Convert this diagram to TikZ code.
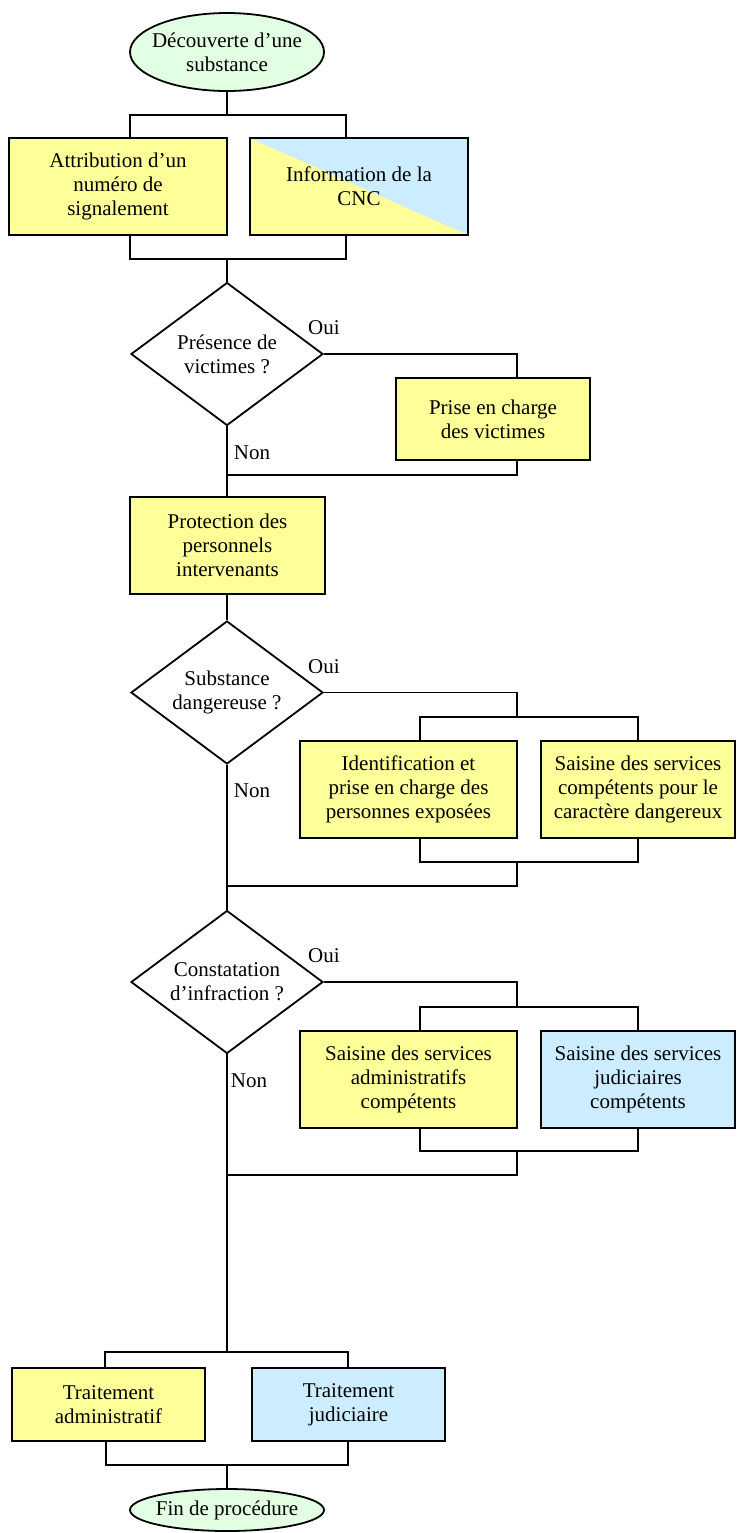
\documentclass[tikz,border=0pt]{standalone}
\usepackage{fontspec}
\setmainfont{Liberation Serif}
\usetikzlibrary{shapes.geometric,positioning}
\definecolor{jaune}{HTML}{FFFF99}
\definecolor{bleu}{HTML}{CCECFF}
\definecolor{vert}{HTML}{E3FFE3}

\begin{document}
\begin{tikzpicture}[x=0.5pt, y=-0.5pt, line width=0.9pt,
  font=\fontsize{10.5}{12}\selectfont,
  boite/.style={draw, rectangle, fill=jaune, align=center, inner sep=0pt},
  boitej/.style={boite, fill=bleu},
  question/.style={draw, diamond, aspect=1.34, inner sep=0pt, minimum width=96pt, minimum height=71.5pt, align=center},
  terminal/.style={draw, ellipse, fill=vert, align=center, inner xsep=-4pt, inner ysep=0pt, minimum width=97pt},
  etiq/.style={inner sep=0pt}]
\useasboundingbox (0,0) rectangle (747,1533);

% noeuds
\node[terminal, minimum height=39pt] (debut) at (227,52) {D\'ecouverte d'une\\substance};
\node[boite, minimum width=109pt, minimum height=48.5pt] (attrib) at (118,186.5) {Attribution d'un\\num\'ero de\\signalement};
\node[boite, fill=none, minimum width=109pt, minimum height=48.5pt,
  path picture={
    \fill[jaune] (path picture bounding box.north west) -- (path picture bounding box.south west) -- (path picture bounding box.south east) -- cycle;
    \fill[bleu] (path picture bounding box.north west) -- (path picture bounding box.north east) -- (path picture bounding box.south east) -- cycle;}]
  (info) at (359,186.5) {Information de la\\CNC};
\node[question] (victimes) at (227,354) {Pr\'esence de\\victimes ?};
\node[boite, minimum width=97pt, minimum height=41pt] (prise) at (493,419) {Prise en charge\\des victimes};
\node[boite, minimum width=97.5pt, minimum height=48.5pt] (protection) at (227.5,545.5) {Protection des\\personnels\\intervenants};
\node[question] (dangereuse) at (227,692.5) {Substance\\dangereuse ?};
\node[boite, minimum width=108.5pt, minimum height=48.5pt] (identif) at (408.5,789.5) {Identification et\\prise en charge des\\personnes expos\'ees};
\node[boite, minimum width=97pt, minimum height=48.5pt] (saisdang) at (638,789.5) {Saisine des services\\comp\'etents pour le\\caract\`ere dangereux};
\node[question] (infraction) at (227,982) {Constatation\\d'infraction ?};
\node[boite, minimum width=108.5pt, minimum height=48.5pt] (saisadm) at (408.5,1079.5) {Saisine des services\\administratifs\\comp\'etents};
\node[boitej, minimum width=97pt, minimum height=48.5pt] (saisjud) at (638,1079.5) {Saisine des services\\judiciaires\\comp\'etents};
\node[boite, minimum width=96.5pt, minimum height=36.5pt] (traitadm) at (108.5,1404.5) {Traitement\\administratif};
\node[boitej, minimum width=96.5pt, minimum height=36.5pt] (traitjud) at (348.5,1404.5) {Traitement\\judiciaire};
\node[terminal, minimum height=21pt] (fin) at (227,1510) {Fin de proc\'edure};

% etiquettes
\node[etiq, above=9pt of victimes.east] (oui1) {Oui};
\node[etiq, below right=9pt and 3pt of victimes.south] (non1) {Non};
\node[etiq, above=9pt of dangereuse.east] (oui2) {Oui};
\node[etiq, below right=9pt and 3pt of dangereuse.south] (non2) {Non};
\node[etiq, above=9pt of infraction.east] (oui3) {Oui};
\node[etiq, below right=9pt and 1.5pt of infraction.south] (non3) {Non};

% points de jonction
\coordinate (haut1g) at (130,115);  \coordinate (haut1d) at (346,115);
\coordinate (bas1g) at (130,259);   \coordinate (bas1d) at (346,259);
\coordinate (c1) at (517,475);
\coordinate (haut3g) at (420,717);  \coordinate (haut3d) at (638,717);
\coordinate (bas3g) at (420,862);   \coordinate (bas3d) at (638,862);
\coordinate (c2) at (517,886);
\coordinate (haut4g) at (420,1007); \coordinate (haut4d) at (638,1007);
\coordinate (bas4g) at (420,1151);  \coordinate (bas4d) at (638,1151);
\coordinate (c3) at (517,1175);
\coordinate (haut5g) at (105,1352); \coordinate (haut5d) at (348,1352);
\coordinate (bas5g) at (106,1465);  \coordinate (bas5d) at (348,1465);

% liaisons
\draw (debut.south) -- (debut.south |- haut1g);
\draw (haut1g |- attrib.north) -- (haut1g) -- (haut1d) -- (haut1d |- info.north);
\draw (bas1g |- attrib.south) -- (bas1g) -- (bas1d) -- (bas1d |- info.south);
\draw (victimes.north |- bas1g) -- (victimes.north);

\draw (victimes.east) -| (c1 |- prise.north);
\draw (c1 |- prise.south) -- (c1) -- (c1 -| victimes.south);
\draw (victimes.south) -- (protection.north -| victimes.south);
\draw (protection.south -| dangereuse.north) -- (dangereuse.north);

\draw (dangereuse.east) -| (c2 |- haut3g);
\draw (haut3g |- identif.north) -- (haut3g) -- (haut3d) -- (haut3d |- saisdang.north);
\draw (bas3g |- identif.south) -- (bas3g) -- (bas3d) -- (bas3d |- saisdang.south);
\draw (c2 |- bas3g) -- (c2) -- (c2 -| dangereuse.south);
\draw (dangereuse.south) -- (infraction.north);

\draw (infraction.east) -| (c3 |- haut4g);
\draw (haut4g |- saisadm.north) -- (haut4g) -- (haut4d) -- (haut4d |- saisjud.north);
\draw (bas4g |- saisadm.south) -- (bas4g) -- (bas4d) -- (bas4d |- saisjud.south);
\draw (c3 |- bas4g) -- (c3) -- (c3 -| infraction.south);
\draw (infraction.south) -- (infraction.south |- haut5g);

\draw (haut5g |- traitadm.north) -- (haut5g) -- (haut5d) -- (haut5d |- traitjud.north);
\draw (bas5g |- traitadm.south) -- (bas5g) -- (bas5d) -- (bas5d |- traitjud.south);
\draw (fin.north |- bas5g) -- (fin.north);
\end{tikzpicture}
\end{document}
